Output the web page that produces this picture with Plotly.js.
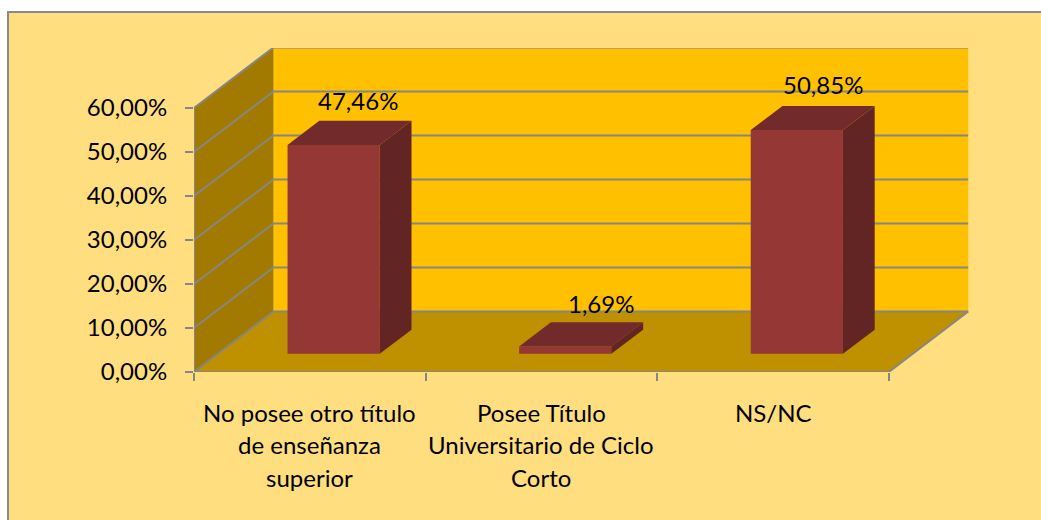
<!DOCTYPE html>
<html>
<head>
<meta charset="utf-8">
<script src="https://cdn.plot.ly/plotly-3.0.1.min.js"></script>
<style>
html,body{margin:0;padding:0;background:#fff;overflow:hidden}
#frame{position:absolute;left:7px;top:11px;width:1034px;height:509px;border-left:2px solid #8a8a8a;border-top:2px solid #8a8a8a;box-sizing:border-box}
</style>
</head>
<body>
<div id="frame"><div id="chart"></div></div>
<script>
const categoryLines = [
  ['No posee otro título','de enseñanza','superior'],
  ['Posee Título','Universitario de Ciclo','Corto'],
  ['NS/NC']
];
const values = [47.46, 1.69, 50.85];
const valueLabels = ['47,46%','1,69%','50,85%'];
const yTickValues = [0,10,20,30,40,50,60];
const yTickLabels = ['0,00%','10,00%','20,00%','30,00%','40,00%','50,00%','60,00%'];

const FONT = 'Lato, Carlito, Calibri, sans-serif';
const FS = 24;
const GRID = '#868686';
const depthX = 0.343, depthY = 13.75;     // oblique projection of the depth axis
const zFront = 0.30, zBack = 0.70, halfW = 0.199;
const nCat = values.length;

function poly(xs, ys, color){
  return {type:'scatter',mode:'lines',x:xs,y:ys,fill:'toself',fillcolor:color,
          line:{width:0,color:color},hoverinfo:'skip',showlegend:false};
}
function line(xs, ys){
  return {type:'scatter',mode:'lines',x:xs,y:ys,line:{width:2,color:GRID},
          hoverinfo:'skip',showlegend:false};
}
const yMax = yTickValues[yTickValues.length-1];
const traces = [
  poly([depthX,nCat+depthX,nCat+depthX,depthX],[depthY,depthY,yMax+depthY,yMax+depthY],'#FFC000'),
  poly([0,depthX,depthX,0],[0,depthY,yMax+depthY,yMax],'#A37A00'),
  poly([0,nCat,nCat+depthX,depthX],[0,0,depthY,depthY],'#BF9000')
];
yTickValues.forEach(v=>{
  traces.push(line([0,depthX,nCat+depthX],[v,v+depthY,v+depthY]));
});
traces.push(line([0,0],[0,yMax]));
traces.push(line([0,nCat,nCat+depthX],[0,0,depthY]));

values.forEach((v,i)=>{
  const c = i+0.5+zFront*depthX;
  const l = c-halfW, r = c+halfW;
  const b = zFront*depthY, t = b+v;
  const dx = (zBack-zFront)*depthX, dy = (zBack-zFront)*depthY;
  traces.push(poly([l,r,r,l],[b,b,t,t],'#953735'));
  traces.push(poly([r,r+dx,r+dx,r],[b,b+dy,t+dy,t],'#632523'));
  traces.push(poly([l,r,r+dx,l+dx],[t,t,t+dy,t+dy],'#732A2A'));
});

const annotations = [];
categoryLines.forEach((lines,i)=>{
  lines.forEach((txt,j)=>{
    annotations.push({x:i+0.5,y:0,xref:'x',yref:'y',text:txt,showarrow:false,
      xanchor:'center',yanchor:'middle',yshift:-(40+32.5*j),
      font:{family:FONT,size:FS,color:'#000'}});
  });
});
const labelShiftX = [24,36,26], labelShiftY = [45,43,46];
values.forEach((v,i)=>{
  annotations.push({x:i+0.5+zFront*depthX,y:zFront*depthY+v,xref:'x',yref:'y',text:valueLabels[i],showarrow:false,
    xanchor:'center',yanchor:'middle',xshift:labelShiftX[i],yshift:labelShiftY[i],
    font:{family:FONT,size:FS,color:'#000'}});
});

const layout = {
  width:1032,height:507,
  margin:{l:185,r:71,t:35,b:148,pad:0},
  paper_bgcolor:'#FFDE80',plot_bgcolor:'rgba(0,0,0,0)',
  showlegend:false,
  xaxis:{range:[0,776/231.6],showgrid:false,zeroline:false,showline:false,
    tickmode:'array',tickvals:[],ticks:'',showticklabels:false,
    minor:{tickmode:'array',tickvals:[0,1,2,3],ticks:'outside',ticklen:8,tickwidth:2,tickcolor:GRID,showgrid:false}},
  yaxis:{range:[0,324/4.4],showgrid:false,zeroline:false,showline:false,
    tickmode:'array',tickvals:yTickValues,ticktext:yTickLabels,ticks:'outside',ticklen:8,tickwidth:2,tickcolor:GRID,
    ticklabelstandoff:13,tickfont:{family:FONT,size:FS,color:'#000'}},
  annotations:annotations
};
Plotly.newPlot('chart',traces,layout,{displayModeBar:false,staticPlot:true});
</script>
</body>
</html>
